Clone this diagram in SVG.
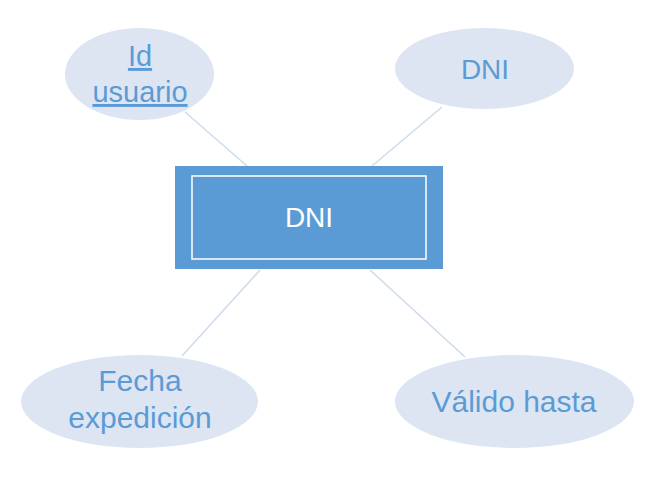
<svg xmlns="http://www.w3.org/2000/svg" width="655" height="487" viewBox="0 0 655 487">
<style>
.attr{fill:#DDE5F3;}
.lbl{font-family:"Liberation Sans",Arial,sans-serif;fill:#5B9BD5;text-anchor:middle;}
.conn line{stroke:#CCDBEE;stroke-width:1.5;}
</style>
<rect width="655" height="487" fill="#FFFFFF"/>
<g id="connectors" class="conn">
<line x1="185" y1="112" x2="247" y2="166"/>
<line x1="442" y1="107" x2="372" y2="166"/>
<line x1="260" y1="270" x2="182" y2="356"/>
<line x1="370" y1="270" x2="465" y2="357"/>
</g>
<g id="entity-dni">
<rect x="175" y="166" width="268" height="103" fill="#5B9BD5"/>
<rect x="192" y="176" width="234" height="83" fill="none" stroke="#FFFFFF" stroke-width="1.5"/>
<text x="309" y="227" class="lbl" style="fill:#FFFFFF" font-size="28">DNI</text>
</g>
<g id="attr-id-usuario">
<ellipse cx="139.5" cy="74" rx="74.5" ry="46" class="attr"/>
<text x="140" y="66" class="lbl" font-size="29" text-decoration="underline">Id</text>
<text x="140" y="102" class="lbl" font-size="29" text-decoration="underline">usuario</text>
</g>
<g id="attr-dni">
<ellipse cx="484.5" cy="68.5" rx="89.5" ry="40.5" class="attr"/>
<text x="485" y="79" class="lbl" font-size="28">DNI</text>
</g>
<g id="attr-fecha">
<ellipse cx="139.5" cy="401.5" rx="118.5" ry="46.5" class="attr"/>
<text x="140" y="391" class="lbl" font-size="30">Fecha</text>
<text x="140" y="428" class="lbl" font-size="30">expedición</text>
</g>
<g id="attr-valido">
<ellipse cx="514.5" cy="401.5" rx="119.5" ry="46.5" class="attr"/>
<text x="514" y="412" class="lbl" font-size="30">Válido hasta</text>
</g>
</svg>
